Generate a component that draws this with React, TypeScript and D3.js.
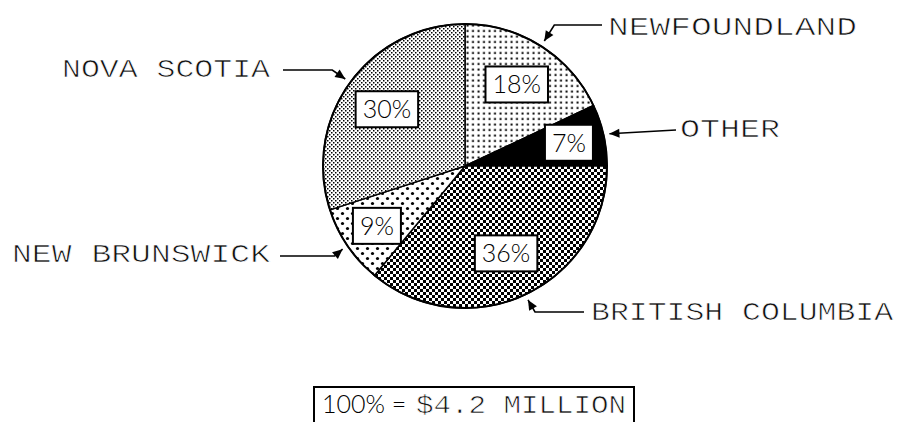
import React, {useEffect, useRef} from "react";
import * as d3 from "d3";

const provinces = ['NEWFOUNDLAND', 'OTHER', 'BRITISH COLUMBIA', 'NEW BRUNSWICK', 'NOVA SCOTIA']
const shares = [18, 7, 36, 9, 30]
const shareLabels = ['18%', '7%', '36%', '9%', '30%']
const totalPct = '100% ='
const totalAmount = '$4.2 MILLION'

// where each outside label sits (text start, baseline, leader row)
const labelLayout = {
    'NEWFOUNDLAND': {tx: 608, ty: 35, len: 249, lineY: 25, lineEnd: 602, elbow: 10},
    'OTHER': {tx: 680, ty: 137, len: 100, lineY: 130, lineEnd: 676, elbow: 0},
    'BRITISH COLUMBIA': {tx: 591, ty: 320, len: 302, lineY: 312, lineEnd: 584, elbow: 7},
    'NEW BRUNSWICK': {tx: 12, ty: 262, len: 258, lineY: 256, lineEnd: 280, elbow: -8},
    'NOVA SCOTIA': {tx: 62, ty: 77, len: 208, lineY: 70, lineEnd: 283, elbow: -13},
}
const fills = ['url(#pNF)', '#000', 'url(#pBC)', 'url(#pNB)', 'url(#pNS)']

export default function App() {
    const svgRef = useRef(null)
    const width = 898
    const height = 422
    const cx = 465
    const cy = 166
    const r = 142

    useEffect(() => {
        const svg = d3.select(svgRef.current)
        svg.selectAll('*').remove()

        const defs = svg.append('defs')
        const nf = defs.append('pattern').attr('id', 'pNF').attr('patternUnits', 'userSpaceOnUse')
            .attr('width', 5.5).attr('height', 5.5)
        nf.append('rect').attr('width', 5.5).attr('height', 5.5).attr('fill', '#fff')
        nf.append('rect').attr('x', 1.5).attr('y', 1.5).attr('width', 2).attr('height', 2).attr('fill', '#000')

        const bc = defs.append('pattern').attr('id', 'pBC').attr('patternUnits', 'userSpaceOnUse')
            .attr('width', 6).attr('height', 6)
        bc.append('rect').attr('width', 6).attr('height', 6).attr('fill', '#fff')
        bc.append('rect').attr('width', 3).attr('height', 3).attr('fill', '#000')
        bc.append('rect').attr('x', 3).attr('y', 3).attr('width', 3).attr('height', 3).attr('fill', '#000')

        const nb = defs.append('pattern').attr('id', 'pNB').attr('patternUnits', 'userSpaceOnUse')
            .attr('width', 10).attr('height', 10)
        nb.append('rect').attr('width', 10).attr('height', 10).attr('fill', '#fff')
        nb.append('circle').attr('cx', 2.5).attr('cy', 2.5).attr('r', 1.6).attr('fill', '#000')
        nb.append('circle').attr('cx', 7.5).attr('cy', 7.5).attr('r', 1.6).attr('fill', '#000')

        const ns = defs.append('pattern').attr('id', 'pNS').attr('patternUnits', 'userSpaceOnUse')
            .attr('width', 4).attr('height', 4)
        ns.append('rect').attr('width', 4).attr('height', 4).attr('fill', '#fff')
        ns.append('rect').attr('width', 1.5).attr('height', 1.5).attr('fill', '#000')
        ns.append('rect').attr('x', 2).attr('y', 2).attr('width', 1.5).attr('height', 1.5).attr('fill', '#000')

        const pie = d3.pie().sort(null).value(d => d)
        const arcs = pie(shares)
        const arc = d3.arc().innerRadius(0).outerRadius(r)

        const g = svg.append('g').attr('transform', `translate(${cx},${cy})`)
        g.selectAll('path.slice')
            .data(arcs)
            .join('path')
            .attr('class', 'slice')
            .attr('d', arc)
            .attr('fill', (d, i) => fills[i])
            .attr('stroke', '#000')
            .attr('stroke-width', 1.5)
        g.append('circle').attr('r', r).attr('fill', 'none').attr('stroke', '#000').attr('stroke-width', 2)

        // percentage boxes
        arcs.forEach((d, i) => {
            const lr = shares[i] < 10 ? r * 0.75 : r * 0.68
            const [lx, ly] = d3.arc().innerRadius(lr).outerRadius(lr).centroid(d)
            const t = g.append('text')
                .attr('x', lx).attr('y', ly + 9)
                .attr('text-anchor', 'middle')
                .attr('font-family', 'Lato, "Liberation Sans", sans-serif')
                .attr('font-weight', 300)
                .attr('font-size', 25)
                .text(shareLabels[i])
            const bb = t.node().getBBox()
            g.insert('rect', () => t.node())
                .attr('x', bb.x - 7).attr('y', ly - 18)
                .attr('width', bb.width + 14).attr('height', 36)
                .attr('fill', '#fff').attr('stroke', '#000').attr('stroke-width', 2)
        })

        // outside labels with leader arrows
        arcs.forEach((d, i) => {
            const L = labelLayout[provinces[i]]
            const a = (d.startAngle + d.endAngle) / 2
            const tip = [cx + Math.sin(a) * (r + 6), cy - Math.cos(a) * (r + 6)]
            const elbow = [tip[0] + L.elbow, L.lineY]
            const pts = L.elbow === 0 ? [tip, [L.lineEnd, L.lineY]] : [tip, elbow, [L.lineEnd, L.lineY]]
            svg.append('path')
                .attr('d', d3.line()(pts))
                .attr('fill', 'none').attr('stroke', '#000').attr('stroke-width', 1.6)
            const from = pts[1]
            const ang = Math.atan2(tip[1] - from[1], tip[0] - from[0])
            const hl = 10, hw = 4.5
            const head = [
                tip,
                [tip[0] - hl * Math.cos(ang) + hw * Math.sin(ang), tip[1] - hl * Math.sin(ang) - hw * Math.cos(ang)],
                [tip[0] - hl * Math.cos(ang) - hw * Math.sin(ang), tip[1] - hl * Math.sin(ang) + hw * Math.cos(ang)],
            ]
            svg.append('path').attr('d', d3.line()(head) + 'Z').attr('fill', '#000')
            svg.append('text')
                .attr('x', L.tx).attr('y', L.ty)
                .attr('font-family', '"Liberation Mono", monospace')
                .attr('font-size', 26)
                .attr('fill', '#111')
                .attr('stroke', '#fff')
                .attr('stroke-width', 0.7)
                .attr('textLength', L.len)
                .attr('lengthAdjust', 'spacingAndGlyphs')
                .text(provinces[i])
        })

        // total box at the bottom
        svg.append('rect')
            .attr('x', 314).attr('y', 387).attr('width', 320).attr('height', 50)
            .attr('fill', '#fff').attr('stroke', '#000').attr('stroke-width', 2)
        svg.append('text')
            .attr('x', 322).attr('y', 413)
            .attr('font-family', 'Lato, "Liberation Sans", sans-serif')
            .attr('font-weight', 300)
            .attr('font-size', 25)
            .text(totalPct)
        svg.append('text')
            .attr('x', 416).attr('y', 413)
            .attr('font-family', '"Liberation Mono", monospace')
            .attr('font-size', 26)
            .attr('fill', '#111')
            .attr('stroke', '#fff')
            .attr('stroke-width', 0.7)
            .attr('textLength', 210)
            .attr('lengthAdjust', 'spacingAndGlyphs')
            .text(totalAmount)
    }, [])

    return (
        <svg ref={svgRef} width={width} height={height}
             style={{position: 'absolute', left: 0, top: 0, background: '#fff'}} />
    )
}
